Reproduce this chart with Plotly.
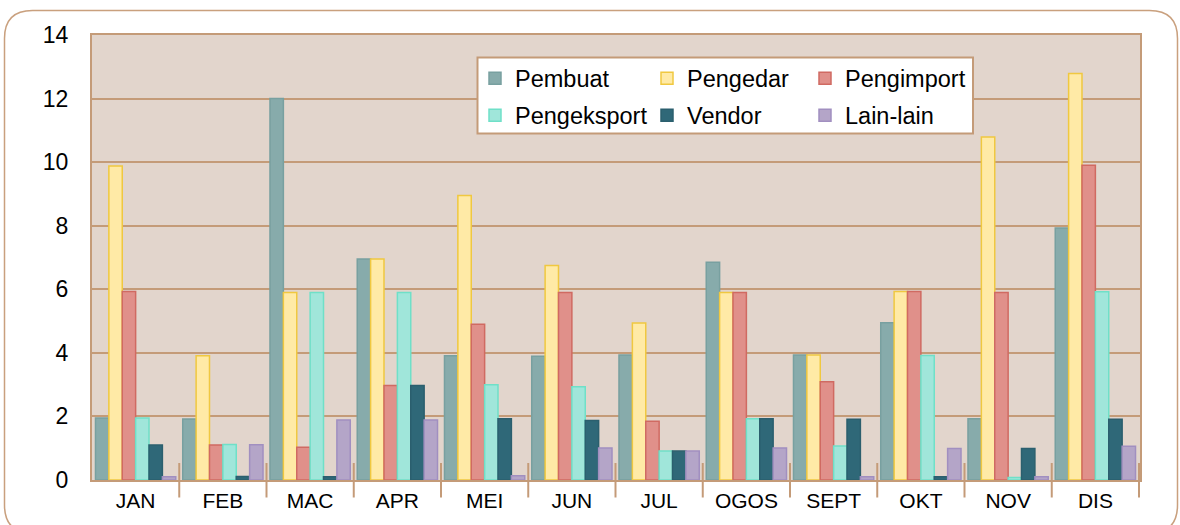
import plotly.graph_objects as go

# Monthly counts by category
months = ["JAN", "FEB", "MAC", "APR", "MEI", "JUN", "JUL", "OGOS", "SEPT", "OKT", "NOV", "DIS"]
pembuat = [1.95, 1.92, 12.0, 6.95, 3.91, 3.89, 3.93, 6.85, 3.93, 4.95, 1.93, 7.93]
pengedar = [9.88, 3.91, 5.9, 6.95, 8.95, 6.75, 4.94, 5.9, 3.93, 5.93, 10.79, 12.79]
pengimport = [5.93, 1.1, 1.03, 2.97, 4.9, 5.9, 1.85, 5.9, 3.09, 5.93, 5.9, 9.9]
pengeksport = [1.95, 1.12, 5.9, 5.9, 3.0, 2.93, 0.91, 1.93, 1.07, 3.92, 0.08, 5.92]
vendor = [1.1, 0.11, 0.1, 2.97, 1.93, 1.87, 0.91, 1.93, 1.91, 0.1, 0.99, 1.91]
lain_lain = [0.1, 1.11, 1.89, 1.89, 0.13, 1.01, 0.91, 1.01, 0.1, 0.99, 0.1, 1.06]
y_ticks = [0, 2, 4, 6, 8, 10, 12, 14]

W, H = 1180, 525
ML, MR, MT, MB = 92, 40, 35, 45
PW, PH = W - ML - MR, H - MT - MB
TAN = "#c49b78"
FONT = "Liberation Sans, Arial, sans-serif"


def px_x(px):
    return (px - ML) / PW


def px_y(py):
    return (H - MB - py) / PH


series = [
    ("Pembuat", pembuat, "#87abab", "#78a0a0", "legend"),
    ("Pengeksport", pengeksport, "#a0e6da", "#6fe0c8", "legend"),
    ("Pengedar", pengedar, "#ffeaa6", "#f0c840", "legend2"),
    ("Vendor", vendor, "#2f6878", "#2b5f6e", "legend2"),
    ("Pengimport", pengimport, "#e0908a", "#d06a62", "legend3"),
    ("Lain-lain", lain_lain, "#b4a5c8", "#a18fc0", "legend3"),
]
bar_order = ["Pembuat", "Pengedar", "Pengimport", "Pengeksport", "Vendor", "Lain-lain"]
lookup = {s[0]: s for s in series}

fig = go.Figure()
for name in bar_order:
    _, vals, fill, edge, leg = lookup[name]
    fig.add_trace(go.Bar(
        x=months, y=vals, name=name,
        marker=dict(color=fill, line=dict(color=edge, width=1.5)),
        legend=leg, legendgroup=name, legendrank=[s[0] for s in series].index(name),
        hoverinfo="x+y+name",
    ))

# category separators crossing the bottom axis
shapes = []
for i in range(1, len(months) + 1):
    shapes.append(dict(type="line", xref="x", yref="paper",
                       x0=i - 0.5, x1=i - 0.5, y0=px_y(497.5), y1=px_y(463),
                       line=dict(color=TAN, width=2), layer="above"))

# legend frame
shapes.append(dict(type="rect", xref="paper", yref="paper",
                   x0=px_x(477.5), x1=px_x(973), y0=px_y(133.5), y1=px_y(57.5),
                   fillcolor="white", line=dict(color=TAN, width=2), layer="above"))

# rounded outer frame
x0, x1, y0, y1, r = 4.5, 1177.5, 10.5, 533, 28
pts = (f"M {px_x(x0 + r)},{px_y(y0)} L {px_x(x1 - r)},{px_y(y0)} "
       f"Q {px_x(x1)},{px_y(y0)} {px_x(x1)},{px_y(y0 + r)} "
       f"L {px_x(x1)},{px_y(y1 - r)} Q {px_x(x1)},{px_y(y1)} {px_x(x1 - r)},{px_y(y1)} "
       f"L {px_x(x0 + r)},{px_y(y1)} Q {px_x(x0)},{px_y(y1)} {px_x(x0)},{px_y(y1 - r)} "
       f"L {px_x(x0)},{px_y(y0 + r)} Q {px_x(x0)},{px_y(y0)} {px_x(x0 + r)},{px_y(y0)} Z")
shapes.append(dict(type="path", xref="paper", yref="paper", path=pts,
                   line=dict(color="#c9a07e", width=1.5), layer="below"))

legend_common = dict(
    orientation="v", yanchor="top", xanchor="left",
    bgcolor="rgba(0,0,0,0)", borderwidth=0,
    font=dict(family=FONT, size=23.5, color="black"),
    tracegroupgap=3.5, itemclick=False, itemdoubleclick=False,
)

fig.update_layout(
    width=W, height=H,
    margin=dict(l=ML, r=MR, t=MT, b=MB),
    paper_bgcolor="white", plot_bgcolor="#e2d5cc",
    barmode="group", bargap=0.08, bargroupgap=0,
    font=dict(family=FONT, color="black"),
    shapes=shapes,
    legend=dict(x=px_x(475), y=px_y(56.5), **legend_common),
    legend2=dict(x=px_x(647), y=px_y(56.5), **legend_common),
    legend3=dict(x=px_x(805), y=px_y(56.5), **legend_common),
    xaxis=dict(
        showline=True, linecolor=TAN, linewidth=2, mirror=True,
        showgrid=False, ticks="", tickfont=dict(size=21, family=FONT),
        ticklabelstandoff=1,
    ),
    yaxis=dict(
        range=[0, 14], tickvals=y_ticks, showgrid=True, gridcolor=TAN, gridwidth=2,
        zeroline=False, showline=True, linecolor=TAN, linewidth=2, mirror=True,
        ticks="", tickfont=dict(size=23, family=FONT), ticklabelstandoff=17,
    ),
)

fig.write_html("out.html")
